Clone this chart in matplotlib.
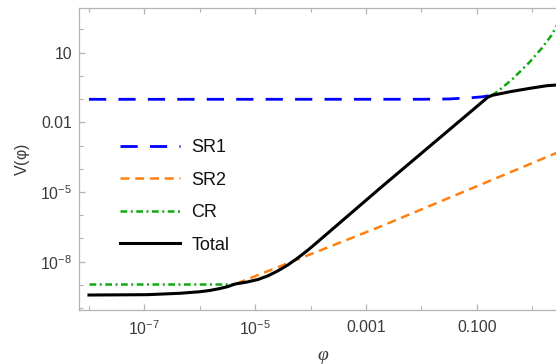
import matplotlib
matplotlib.use("Agg")
import matplotlib.pyplot as plt
from matplotlib.ticker import FixedLocator, FixedFormatter, NullFormatter

plt.rcParams['font.family'] = ['Liberation Sans', 'DejaVu Sans']
plt.rcParams['mathtext.fontset'] = 'custom'
plt.rcParams['mathtext.rm'] = 'Liberation Sans'
plt.rcParams['mathtext.it'] = 'Liberation Serif:italic'
plt.rcParams['mathtext.default'] = 'regular'

# ---- data ----
sr1_phi = [1e-8, 1e-2, 3.2e-2, 7.9e-2, 0.126, 0.182]
sr1_V = [0.0984, 0.0989, 0.102, 0.115, 0.126, 0.145]

sr2_phi = [4.64e-6, 1.79e-3, 2.8]
sr2_V = [1.15e-9, 3.2e-7, 4.9e-4]

cr_low_phi = [1e-8, 4.34e-6]
cr_low_V = [1.05e-9, 1.05e-9]
cr_high_phi = [0.187, 0.245, 0.458, 0.916, 1.49, 2.26, 2.8]
cr_high_V = [0.145, 0.224, 0.789, 4.09, 15.5, 57.8, 150.0]

tot_phi = [1e-8, 1.12e-7, 4.42e-7, 1.01e-6, 1.53e-6, 2.32e-6, 3.24e-6,
           4.33e-6, 7.13e-6, 1.125e-5, 1.706e-5, 2.58e-5, 3.92e-5, 5.93e-5,
           9.0e-5, 1.36e-4, 1.79e-3, 0.158, 0.187, 0.399, 0.916, 1.837, 2.8]
tot_V = [3.67e-10, 3.8e-10, 4.37e-10, 5.09e-10, 5.79e-10, 7.0e-10, 8.53e-10,
         1.094e-9, 1.33e-9, 1.71e-9, 2.47e-9, 4.05e-9, 7.33e-9, 1.47e-8,
         3.18e-8, 7.33e-8, 1.45e-5, 0.120, 0.145, 0.209, 0.293, 0.379, 0.408]

xtick_vals = [1e-7, 1e-5, 1e-3, 1e-1]
xtick_labels = [r'$10^{-7}$', r'$10^{-5}$', '0.001', '0.100']
xminor_vals = [1e-8, 1e-6, 1e-4, 1e-2, 1e0]
ytick_vals = [10, 1e-2, 1e-5, 1e-8]
ytick_labels = ['10', '0.01', r'$10^{-5}$', r'$10^{-8}$']
yminor_vals = [1e-10, 1e-9, 1e-7, 1e-6, 1e-4, 1e-3, 1e-1, 1e0, 1e2]

labels = ['SR1', 'SR2', 'CR', 'Total']

# ---- figure ----
W, H = 556, 364
fig = plt.figure(figsize=(W / 100, H / 100), dpi=100)
L, R, T, B = 79, 567, 7.5, 310
ax = fig.add_axes([L / W, 1 - B / H, (R - L) / W, (B - T) / H])
ax.set_xscale('log')
ax.set_yscale('log')
ax.set_xlim(10 ** -8.18, 10 ** 0.63)
ax.set_ylim(10 ** -10.08, 10 ** 2.947)

blue = '#0000ff'
orange = '#ff8010'
green = '#10a810'

l1, = ax.plot(sr1_phi, sr1_V, color=blue, lw=2.0, dashes=(6.2, 4.4), label=labels[0])
l2, = ax.plot(sr2_phi, sr2_V, color=orange, lw=1.8, dashes=(3.6, 2.3), label=labels[1])
l3, = ax.plot(cr_low_phi, cr_low_V, color=green, lw=1.8, dashes=(2.7, 1.4, 0.8, 1.4), label=labels[2])
ax.plot(cr_high_phi, cr_high_V, color=green, lw=1.8, dashes=(2.7, 1.4, 0.8, 1.4))
l4, = ax.plot(tot_phi, tot_V, color='black', lw=2.2, label=labels[3], solid_joinstyle='round')

frame_col = '#b4b4b4'
for s in ax.spines.values():
    s.set_color(frame_col)
    s.set_linewidth(0.9)

ax.xaxis.set_major_locator(FixedLocator(xtick_vals))
ax.xaxis.set_major_formatter(FixedFormatter(xtick_labels))
ax.xaxis.set_minor_locator(FixedLocator(xminor_vals))
ax.xaxis.set_minor_formatter(NullFormatter())
ax.yaxis.set_major_locator(FixedLocator(ytick_vals))
ax.yaxis.set_major_formatter(FixedFormatter(ytick_labels))
ax.yaxis.set_minor_locator(FixedLocator(yminor_vals))
ax.yaxis.set_minor_formatter(NullFormatter())

ax.tick_params(which='both', direction='in', color=frame_col, top=True, right=True,
               labelcolor='#3a3a3a', labelsize=11.3)
ax.tick_params(which='major', length=4.5, width=0.9)
ax.tick_params(which='minor', length=3, width=0.8)
ax.tick_params(axis='y', which='major', pad=5)
ax.tick_params(axis='x', which='major', pad=7)

fig.text(323 / W, 1 - 355 / H, 'φ', ha='center', va='center', fontsize=14,
         family='Liberation Serif', style='italic', color='#3a3a3a')
fig.text(22.5 / W, 1 - 160 / H, r'V($φ$)', ha='center', va='center', rotation=90,
         fontsize=11.5, color='#3a3a3a')

leg = ax.legend(handles=[l1, l2, l3, l4], loc='upper left',
                bbox_to_anchor=((120 - L) / (R - L), (B - 139) / (B - T)),
                frameon=False, fontsize=13, handlelength=3.3, handletextpad=0.65,
                labelspacing=0.86, borderpad=0, borderaxespad=0)
for t in leg.get_texts():
    t.set_color('#111111')

fig.savefig('out.png', dpi=100)
